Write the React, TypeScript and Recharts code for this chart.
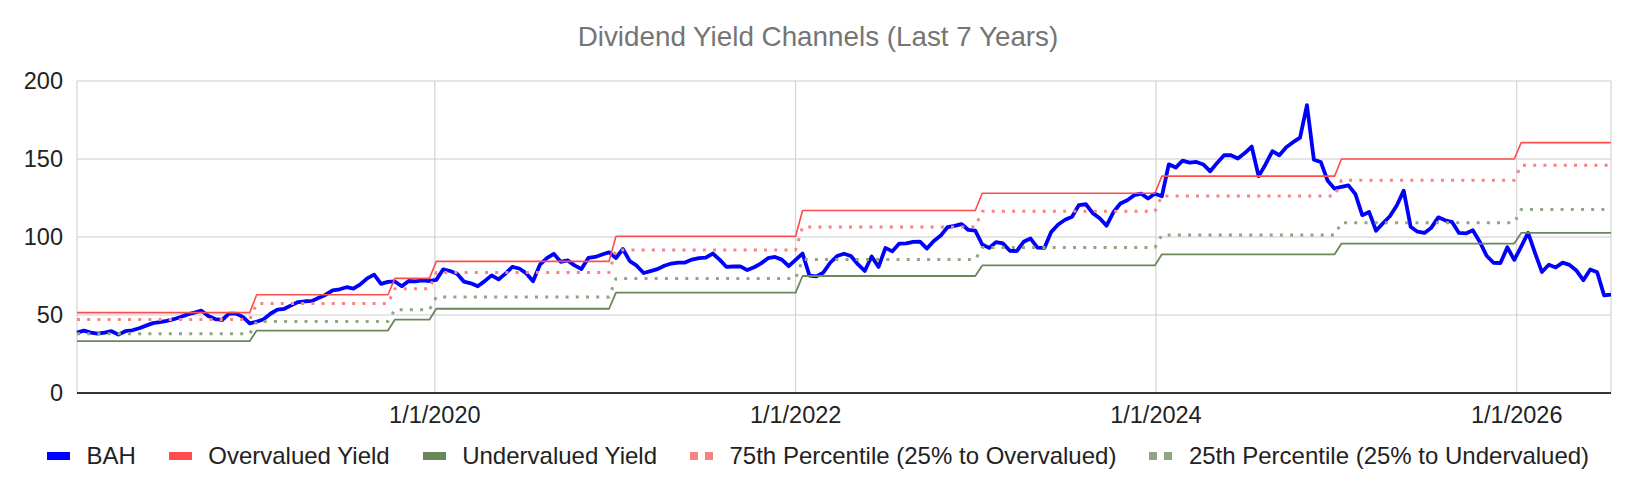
import { LineChart, Line, XAxis, YAxis, CartesianGrid } from "recharts";

const DAY = 86400000;
const START = Date.UTC(2018, 0, 6);
const STEP_DAYS = 14;

// BAH price, one reading every two weeks from 2018-01-06
const bah = [
    38.7, 40, 38.7, 38, 38.7, 39.6, 37.4, 39.6, 40.2, 41.5,
    43.2, 44.8, 45.4, 46.2, 47.3, 48.7, 50.4, 51.5, 52.8, 49.3,
    47.4, 46.8, 50.9, 50.9, 48.8, 44.6, 45.7, 47.3, 50.8, 53.4,
    54, 56.2, 58.3, 58.8, 59, 61, 63, 65.8, 66.5, 67.8,
    66.9, 69.6, 73.5, 75.9, 70, 71.2, 71.5, 68.4, 71.8, 71.6,
    72.2, 71.8, 72.5, 79.3, 78.2, 76.4, 71.4, 70.3, 68.4, 71.7,
    75.4, 72.8, 76.5, 80.8, 79.8, 76.8, 71.6, 82.3, 86.5, 89.2,
    84.1, 85, 81.8, 79.5, 86.6, 87.2, 88.8, 90.2, 86.5, 92.3,
    84.5, 81.6, 76.9, 78.1, 79.4, 81.6, 83, 83.6, 83.6, 85.5,
    86.5, 86.8, 89.4, 85.5, 80.8, 81.1, 81.2, 78.8, 80.6, 83.1,
    86.4, 87.2, 85.5, 81.3, 85.4, 89.4, 75.3, 74.8, 77.2, 83.5,
    87.8, 89.3, 87.8, 82.6, 78.2, 87.5, 80.8, 93, 90.8, 95.8,
    95.9, 96.9, 97, 92.6, 97.5, 100.9, 106.4, 107.1, 108.3, 104.5,
    104.1, 95.2, 93, 96.7, 95.9, 91.2, 91, 96.9, 99, 93.2,
    93, 103.3, 108, 111.1, 113, 120.5, 121, 115.3, 112, 107.3,
    116, 121.5, 123.5, 126.8, 127.8, 124.7, 127.7, 126.1, 146.6, 144.5,
    149, 147.7, 148.1, 146.5, 142.1, 147.5, 152.4, 152.4, 150.3, 153.8,
    158, 139, 146.5, 155, 152.4, 157.5, 160.8, 163.7, 184.5, 149.5,
    148.1, 136, 131, 132.2, 133.1, 127.6, 114, 116, 104, 108.8,
    113.3, 120.2, 129.7, 106.6, 103.4, 102.6, 106, 112.6, 110.7, 109.6,
    102.6, 102.3, 104.3, 97, 88, 83.5, 83.3, 93.4, 85.3, 93.8,
    102.6, 89.8, 77.6, 82.2, 80.5, 83.6, 82.1, 78.5, 72.3, 79.2,
    77.4, 62.6, 63.1,
];

// the channels step up after each of these dates
const channelResets = [
    "2019-01-01", "2019-10-01", "2020-01-01", "2021-01-01", "2022-01-01",
    "2023-01-01", "2024-01-01", "2025-01-01", "2026-01-01",
];
const overvalued = [51.5, 63, 73.5, 84.4, 100.5, 117, 128, 139, 150, 160.5];
const undervalued = [33.3, 40, 47, 54, 64.4, 75, 81.8, 88.9, 95.8, 102.6];
const pct75 = [47.1, 57.3, 66.9, 77.2, 91.7, 106.4, 116.5, 126.3, 136.3, 146];
const pct25 = [38, 45.8, 53.4, 61.5, 73.4, 85.5, 93.3, 101.3, 109.2, 117.6];

const xTickDates = ["2020-01-01", "2022-01-01", "2024-01-01", "2026-01-01"];
const yTicks = [0, 50, 100, 150, 200];

const FONT = "'Liberation Sans', Arial, sans-serif";

const series = [
    { key: "bah", name: "BAH", color: "#0000ff", width: 3.8, dotted: false },
    { key: "over", name: "Overvalued Yield", color: "#ff4d4d", width: 1.6, dotted: false },
    { key: "under", name: "Undervalued Yield", color: "#6a8759", width: 1.8, dotted: false },
    { key: "p75", name: "75th Percentile (25% to Overvalued)", color: "#f78383", width: 3, dotted: true },
    { key: "p25", name: "25th Percentile (25% to Undervalued)", color: "#8fa586", width: 3, dotted: true },
];

const resetTimes = channelResets.map((d) => Date.parse(d));
const rows = bah.map((v, i) => {
    const t = START + i * STEP_DAYS * DAY;
    const k = resetTimes.filter((r) => t > r).length;
    return { t, bah: v, over: overvalued[k], under: undervalued[k], p75: pct75[k], p25: pct25[k] };
});
const xTicks = xTickDates.map((d) => Date.parse(d));

function fmtDate(t: number) {
    const d = new Date(t);
    return `${d.getUTCMonth() + 1}/${d.getUTCDate()}/${d.getUTCFullYear()}`;
}

function LegendIcon({ color, dotted }: { color: string; dotted: boolean }) {
    if (!dotted) {
        return <div style={{ width: 23, height: 8, background: color }} />;
    }
    return (
        <div style={{ width: 23, height: 8, display: "flex", justifyContent: "space-between" }}>
            <div style={{ width: 8, height: 8, background: color }} />
            <div style={{ width: 8, height: 8, background: color }} />
        </div>
    );
}

export default function App() {
    return (
        <div
            style={{
                position: "absolute",
                left: 0,
                top: 0,
                width: 1636,
                height: 494,
                background: "#fff",
                fontFamily: FONT,
            }}
        >
            <div
                style={{
                    position: "absolute",
                    top: 23,
                    left: 0,
                    width: 1636,
                    textAlign: "center",
                    fontSize: 27.8,
                    lineHeight: "28px",
                    color: "#757575",
                }}
            >
                Dividend Yield Channels (Last 7 Years)
            </div>

            <LineChart
                width={1636}
                height={494}
                data={rows}
                margin={{ top: 81, right: 25, bottom: 71, left: 0 }}
            >
                <CartesianGrid stroke="#cccccc" strokeWidth={1} />
                <XAxis
                    dataKey="t"
                    type="number"
                    domain={[rows[0].t, rows[rows.length - 1].t]}
                    ticks={xTicks}
                    interval={0}
                    tickFormatter={fmtDate}
                    height={30}
                    tickLine={false}
                    tickSize={0}
                    tickMargin={13}
                    axisLine={{ stroke: "#333333", strokeWidth: 2 }}
                    tick={{ fill: "#222222", fontSize: 23.5, fontFamily: FONT }}
                />
                <YAxis
                    domain={[0, 200]}
                    ticks={yTicks}
                    width={77}
                    axisLine={false}
                    tickLine={false}
                    tickSize={0}
                    tickMargin={14}
                    tick={{ fill: "#222222", fontSize: 23.5, fontFamily: FONT }}
                />
                {series.map((s) => (
                    <Line
                        key={s.key}
                        type="linear"
                        dataKey={s.key}
                        name={s.name}
                        stroke={s.color}
                        strokeWidth={s.width}
                        strokeDasharray={s.dotted ? "3 7.2" : undefined}
                        strokeLinejoin="round"
                        dot={false}
                        activeDot={false}
                        isAnimationActive={false}
                    />
                ))}
            </LineChart>

            <div
                style={{
                    position: "absolute",
                    top: 444,
                    left: 0,
                    width: 1636,
                    display: "flex",
                    justifyContent: "center",
                    alignItems: "center",
                    gap: 33,
                    fontSize: 24,
                    lineHeight: "24px",
                    color: "#222222",
                }}
            >
                {series.map((s) => (
                    <div key={s.key} style={{ display: "flex", alignItems: "center", gap: 16.5 }}>
                        <LegendIcon color={s.color} dotted={s.dotted} />
                        <span>{s.name}</span>
                    </div>
                ))}
            </div>
        </div>
    );
}
